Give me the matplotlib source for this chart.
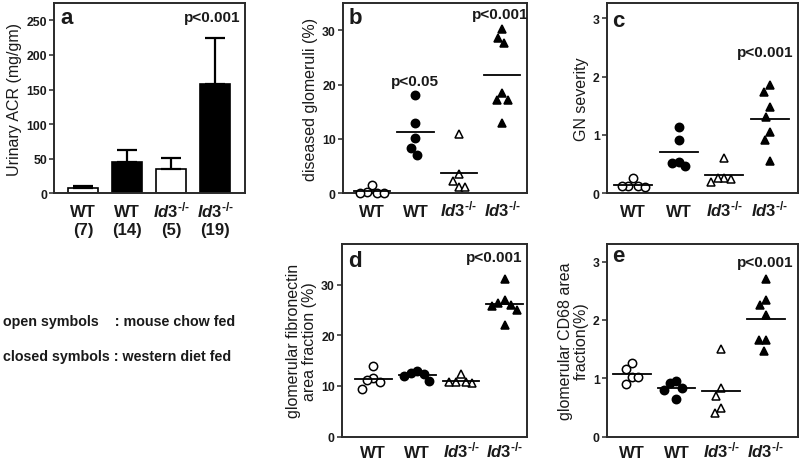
import numpy as np
import matplotlib
matplotlib.use("Agg")
import matplotlib.pyplot as plt

plt.rcParams['font.family'] = ['Liberation Sans', 'DejaVu Sans']
plt.rcParams['mathtext.fontset'] = 'custom'
plt.rcParams['mathtext.it'] = 'Liberation Sans:italic:bold'
plt.rcParams['mathtext.rm'] = 'Liberation Sans:bold'
plt.rcParams['mathtext.bf'] = 'Liberation Sans:bold'

# ---------------- data ----------------
ID3 = '$\\mathit{Id3}^{\\mathit{\u2010/\u2010}}$'
group_labels = ['WT', 'WT', ID3, ID3]
group_filled = [False, True, False, True]
group_marker = ['o', 'o', '^', '^']

# panel a: urinary ACR (mean, upper SEM, n)
acr_mean = [8, 45, 35, 158]
acr_err = [3, 17, 16, 66]
acr_n = [7, 14, 5, 19]

# panel b: diseased glomeruli (%)
b_wt_chow = [1.5, 0.2, 0.0, 0.0, 0.0]
b_wt_west = [18.1, 13.0, 10.1, 8.3, 7.0]
b_id3_chow = [10.9, 3.6, 2.3, 1.1, 1.1]
b_id3_west = [30.3, 28.5, 27.6, 18.4, 17.1, 17.1, 12.9]

# panel c: GN severity
c_wt_chow = [0.26, 0.12, 0.12, 0.12, 0.10]
c_wt_west = [1.13, 0.91, 0.54, 0.52, 0.47]
c_id3_chow = [0.60, 0.27, 0.25, 0.26, 0.20]
c_id3_west = [1.85, 1.74, 1.47, 1.30, 1.05, 0.91, 0.55]

# panel d: glomerular fibronectin area fraction (%)
d_wt_chow = [14.0, 11.5, 11.2, 10.8, 9.5]
d_wt_west = [13.0, 12.6, 12.3, 12.0, 10.9]
d_id3_chow = [12.4, 10.8, 10.7, 10.6, 10.8]
d_id3_west = [31.1, 26.9, 26.3, 26.0, 25.8, 25.0, 22.0]

# panel e: glomerular CD68 area fraction (%)
e_wt_chow = [1.26, 1.16, 1.02, 1.02, 0.90]
e_wt_west = [0.95, 0.92, 0.83, 0.80, 0.65]
e_id3_chow = [1.50, 0.83, 0.70, 0.50, 0.41]
e_id3_west = [2.70, 2.34, 2.25, 2.09, 1.66, 1.66, 1.46]

# ---------------- figure ----------------
W, H = 800, 464
fig = plt.figure(figsize=(W / 100, H / 100), dpi=100)
TXT = '#1a1a1a'
SPINE = '#2a2a2a'


def make_ax(left, top, right, bottom, xpad=16):
    ax = fig.add_axes([left / W, 1 - bottom / H, (right - left) / W, (bottom - top) / H])
    for s in ax.spines.values():
        s.set_linewidth(1.4)
        s.set_color(SPINE)
    ax.tick_params(axis='y', length=3.5, width=1.1, color=SPINE, labelsize=8.8,
                   pad=1.5, labelcolor=TXT)
    ax.tick_params(axis='x', length=0, labelsize=12, pad=xpad, labelcolor=TXT)
    return ax


def style_ticks(ax):
    for lab in ax.get_yticklabels() + ax.get_xticklabels():
        lab.set_fontweight('bold')
    for lab in ax.get_xticklabels():
        lab.set_verticalalignment('baseline')


def swarm_offsets(ax, values, dx=6.5, dy=12.0):
    # simple deterministic beeswarm in pixel space (elliptical exclusion zone)
    p0 = ax.transData.transform((0, 0))
    p1 = ax.transData.transform((1, 1))
    sx = p1[0] - p0[0]
    sy = p1[1] - p0[1]
    order = np.argsort(-np.asarray(values), kind='stable')
    placed = []
    offs = np.zeros(len(values))
    cands = sorted(np.arange(-30, 30.01, 0.5), key=lambda v: (abs(v), v))
    for i in order:
        y = values[i] * sy
        for c in cands:
            ok = all(((c - px) / dx) ** 2 + ((y - py) / dy) ** 2 >= 1.0 for px, py in placed)
            if ok:
                placed.append((c, y))
                offs[i] = c / sx
                break
    return offs


def scatter_panel(ax, groups, ylim, yticks, xlim):
    ax.set_xlim(*xlim)
    ax.set_ylim(*ylim)
    ax.set_yticks(yticks)
    ax.set_xticks(range(4))
    ax.set_xticklabels(group_labels)
    style_ticks(ax)
    for gi, vals in enumerate(groups):
        offs = swarm_offsets(ax, vals)
        xs = gi + offs
        fc = 'black' if group_filled[gi] else 'white'
        ms = 6.0 if group_marker[gi] == 'o' else 6.3
        ax.plot(xs, vals, linestyle='none', marker=group_marker[gi], ms=ms,
                mfc=fc, mec='black', mew=1.1, clip_on=False, zorder=3)
        m = np.mean(vals)
        ax.plot([gi - 0.42, gi + 0.42], [m, m], color='black', lw=1.3, zorder=4)


def panel_letter(ax, s, x, y):
    ax.text(x, y, s, transform=ax.transAxes, fontsize=16, fontweight='bold',
            ha='left', va='center', color=TXT)


YLAB = dict(fontsize=11.5, color=TXT, labelpad=3, fontweight='medium')

# ---- panel a ----
axa = make_ax(54, 4, 245, 194.3, xpad=29)
axa.set_xlim(-0.66, 3.68)
axa.set_ylim(0, 275)
axa.set_yticks([0, 50, 100, 150, 200, 250])
xs = np.arange(4)
axa.bar(xs, acr_mean, width=0.68,
        color=['black' if f else 'white' for f in group_filled],
        edgecolor='black', linewidth=1.2, zorder=2)
axa.errorbar(xs, acr_mean, yerr=[np.zeros(4), acr_err], fmt='none',
             ecolor='black', elinewidth=1.6, capsize=7, capthick=1.6, zorder=3)
axa.set_xticks(xs)
axa.set_xticklabels([f'{g}\n({n})' for g, n in zip(group_labels, acr_n)])
style_ticks(axa)
axa.set_ylabel('Urinary ACR (mg/gm)', **YLAB)
panel_letter(axa, 'a', 0.035, 0.925)
axa.text(0.975, 0.925, 'p<0.001', transform=axa.transAxes, ha='right', va='center',
         fontsize=11, fontweight='bold', color=TXT)

# ---- panel b ----
axb = make_ax(342.7, 4, 526.7, 194.3, xpad=16)
scatter_panel(axb, [b_wt_chow, b_wt_west, b_id3_chow, b_id3_west],
              (0, 35), [0, 10, 20, 30], (-0.68, 3.57))
axb.set_ylabel('diseased glomeruli (%)', **YLAB)
panel_letter(axb, 'b', 0.03, 0.925)
axb.text(1, 20.7, 'p<0.05', ha='center', va='center', fontsize=11,
         fontweight='bold', color=TXT)
axb.text(2.95, 33.0, 'p<0.001', ha='center', va='center', fontsize=11,
         fontweight='bold', color=TXT)

# ---- panel c ----
axc = make_ax(606.7, 4, 798, 194.3, xpad=16)
scatter_panel(axc, [c_wt_chow, c_wt_west, c_id3_chow, c_id3_west],
              (0, 3.26), [0, 1, 2, 3], (-0.58, 3.62))
axc.set_ylabel('GN severity', **YLAB)
panel_letter(axc, 'c', 0.03, 0.91)
axc.text(0.975, 2.42, 'p<0.001', transform=axc.get_yaxis_transform(), ha='right',
         va='center', fontsize=11, fontweight='bold', color=TXT)

# ---- panel d ----
axd = make_ax(341.7, 245, 526.7, 437.7, xpad=14.5)
scatter_panel(axd, [d_wt_chow, d_wt_west, d_id3_chow, d_id3_west],
              (0, 38), [0, 10, 20, 30], (-0.72, 3.5))
axd.set_ylabel('glomerular fibronectin\narea fraction (%)', linespacing=1.05, **YLAB)
panel_letter(axd, 'd', 0.035, 0.913)
axd.text(0.975, 35.4, 'p<0.001', transform=axd.get_yaxis_transform(), ha='right',
         va='center', fontsize=11, fontweight='bold', color=TXT)

# ---- panel e ----
axe = make_ax(606.7, 245, 798, 437.7, xpad=14.5)
scatter_panel(axe, [e_wt_chow, e_wt_west, e_id3_chow, e_id3_west],
              (0, 3.3), [0, 1, 2, 3], (-0.56, 3.72))
axe.set_ylabel('glomerular CD68 area\nfraction(%)', linespacing=1.05, **YLAB)
panel_letter(axe, 'e', 0.026, 0.94)
axe.text(0.975, 2.99, 'p<0.001', transform=axe.get_yaxis_transform(), ha='right',
         va='center', fontsize=11, fontweight='bold', color=TXT)

# ---- legend text ----
fig.text(3 / W, 1 - 321.7 / H, 'open symbols    : mouse chow fed', ha='left',
         va='center', fontsize=10.3, fontweight='bold', color=TXT)
fig.text(3 / W, 1 - 357 / H, 'closed symbols : western diet fed', ha='left',
         va='center', fontsize=10.3, fontweight='bold', color=TXT)

fig.savefig('out.png', dpi=100, facecolor='white')
